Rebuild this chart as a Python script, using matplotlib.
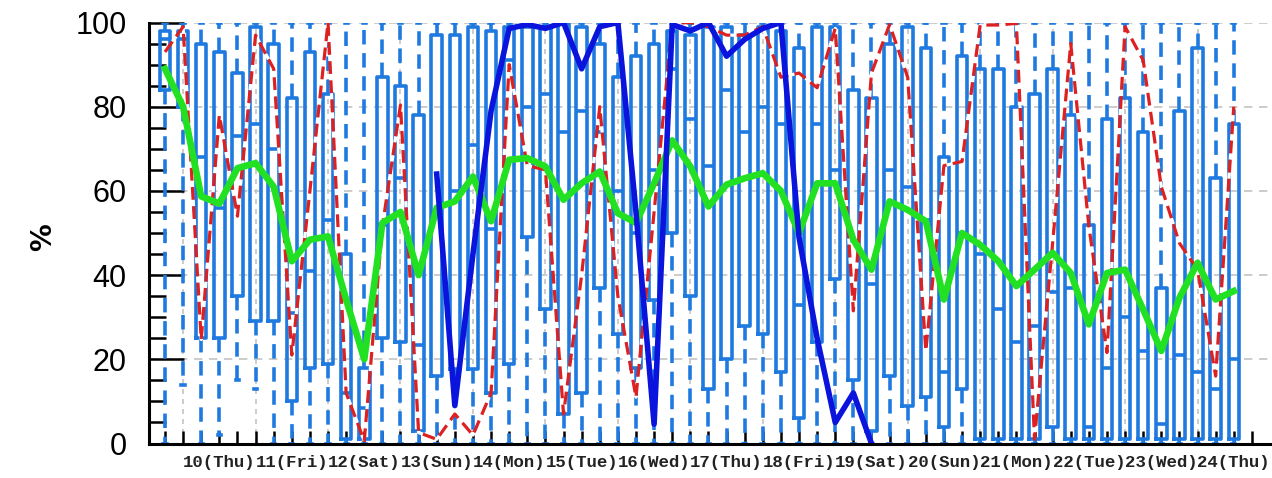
import matplotlib
matplotlib.use("Agg")
import matplotlib.pyplot as plt
import matplotlib.transforms as mtransforms
import numpy as np
from matplotlib.ticker import MultipleLocator

# ------------------------------------
# Data: one slot every 6 hours, slot 0 = 9th 18:00
# ------------------------------------
day_labels = ["10(Thu)", "11(Fri)", "12(Sat)", "13(Sun)", "14(Mon)",
              "15(Tue)", "16(Wed)", "17(Thu)", "18(Fri)", "19(Sat)",
              "20(Sun)", "21(Mon)", "22(Tue)", "23(Wed)", "24(Thu)"]

box_hi = [100, 100, 100, 100, 100, 100, 100, 100, 100, 100,
          100, 100, 100, 100, 100, 100, 100, 100, 100, 100,
          100, 100, 100, 100, 100, 100, 100, 100, 100, 100,
          100, 100, 100, 100, 100, 100, 100, 100, 100, 100,
          100, 100, 100, 100, 100, 100, 100, 100, 100, 100,
          100, 100, 100, 100, 100, 100, 100, 100, 100, 100]
box_q3 = [98, 98, 95, 93, 88, 99, 95, 82, 93, 83,
          45, 18, 87, 85, 78, 97, 97, 99, 98, 99,
          99, 99, 100, 99, 95, 87, 92, 95, 98, 97,
          99, 99, 97, 99, 98, 94, 99, 99, 84, 82,
          95, 99, 94, 68, 92, 89, 89, 80, 83, 89,
          78, 52, 77, 82, 74, 37, 79, 94, 63, 76]
box_med = [96, 96, 68, 56, 73, 76, 70, 31, 41, 53,
           12, 8.5, 52, 63, 23.5, 55, 60, 71, 51, 91,
           80, 83, 74, 79, 74, 60, 50, 65, 89, 77,
           66, 84, 74, 80, 76, 33, 76, 65, 48, 38,
           65, 61, 53, 17, 50, 45, 32, 24, 28, 36,
           37, 4, 18, 30, 22, 4.6, 21, 17, 13, 20]
box_q1 = [84, 80, 25, 25, 35, 29, 29, 10, 18, 19,
          1, 1, 25, 24, 3, 16, 17.6, 17.6, 12, 19,
          49, 32, 7, 12, 37, 26, 18, 34, 50, 35,
          13, 20, 28, 26, 17, 6, 24, 39, 15, 3,
          16, 9, 11, 4, 13, 1, 1, 1, 1, 4,
          1, 1, 1, 1, 1, 1, 1, 1, 1, 1]
box_lo = [0, 14, 0, 2, 15, 13, 0, 0, 0, 0,
          0, 0, 0, 0, 0, 0, 0, 0, 0, 0,
          0, 0, 0, 0, 0, 0, 0, 0, 0, 0,
          0, 0, 0, 0, 0, 0, 0, 0, 0, 0,
          0, 0, 0, 0, 0, 0, 0, 0, 0, 0,
          0, 0, 0, 0, 0, 0, 0, 0, 0, 0]

red_line = [93, 99, 24.7, 78, 54, 97, 89, 21, 60, 100,
            12, 0.6, 51.6, 80.4, 2.6, 1, 7, 2, 12, 90,
            66, 65, 7, 40, 80, 35, 11, 55, 99.8, 100,
            99, 97, 97, 99, 87, 88, 84.5, 98.6, 31.5, 88,
            99.5, 87, 22, 66, 67, 99.4, 99.4, 99.8, 1, 47.6,
            95, 51.6, 21.6, 99, 91, 61, 47.6, 41.3, 16, 80]
green_line = [89, 80, 58.7, 57, 65.4, 66.6, 61, 43.3, 48.4, 49.2,
              34.2, 20, 52.4, 55, 40, 56, 57.5, 63.4, 52.8, 67.4,
              67.8, 65.8, 57.9, 61.8, 64.6, 54.7, 52.4, 61.8, 72, 65.8,
              56.3, 61.5, 63, 64.2, 60, 50, 61.8, 61.8, 48.4, 41.3,
              57.5, 55.5, 52.8, 34.2, 50, 47.2, 43.3, 37.4, 41.3, 45.3,
              40.5, 28.3, 40.5, 41.3, 31.8, 22, 34.6, 42.9, 34.2, 36.2]
blue_line = [None, None, None, None, None, None, None, None, None, None,
             None, None, None, None, None, 64, 9, 45, 79, 98.6,
             99.5, 98.6, 100, 89, 99, 100, 55, 4.6, 99.5, 98,
             100, 92, 96, 98.6, 100, 49, 25, 5, 12, 0,
             None, None, None, None, None, None, None, None, None, None,
             None, None, None, None, None, None, None, None, None, None]

# ------------------------------------
# Styles
# ------------------------------------
BOX_BLUE = "#1f7ae0"
LINE_RED = "#dd2020"
LINE_GREEN = "#22e022"
LINE_BLUE = "#0a14dc"
GRID_GRAY = "#c4c4c4"

n_slots = len(box_med)
slots = np.arange(n_slots)

fig = plt.figure(figsize=(12.72, 4.78), dpi=100)
ax = fig.add_axes([149 / 1272, 34.5 / 478, 1121 / 1272, 421 / 478])

# grid: horizontal every 20 %, vertical at each midnight
ax.set_ylim(0, 100)
ax.set_xlim(-0.883, 61.0)
ax.set_yticks(np.arange(0, 101, 20))
ax.yaxis.set_minor_locator(MultipleLocator(5))
ax.yaxis.grid(True, color=GRID_GRAY, ls=(0, (5, 4)), lw=1.2, zorder=0)
for midnight in range(1, n_slots, 4):
    ax.axvline(midnight, color=GRID_GRAY, ls=(0, (3, 3)), lw=1.2, zorder=0)

stats = [dict(whislo=lo, q1=q1, med=md, q3=q3, whishi=hi, fliers=[])
         for lo, q1, md, q3, hi in zip(box_lo, box_q1, box_med, box_q3, box_hi)]
ax.bxp(stats, positions=slots, widths=0.58, showfliers=False,
       manage_ticks=False, capwidths=0.18,
       boxprops=dict(color=BOX_BLUE, lw=2.6),
       whiskerprops=dict(color=BOX_BLUE, lw=2.6, ls=(0, (4, 2.4))),
       capprops=dict(color=BOX_BLUE, lw=2.6),
       medianprops=dict(color=BOX_BLUE, lw=2.6))

blue = np.array([np.nan if v is None else v for v in blue_line], dtype=float)
ax.plot(slots, red_line, color=LINE_RED, lw=2.3, ls=(0, (4, 2)),
        gapcolor="white", zorder=4)
ax.plot(slots, green_line, color=LINE_GREEN, lw=4.8, zorder=5,
        solid_joinstyle="round")
ax.plot(slots, blue, color=LINE_BLUE, lw=4.0, zorder=6)

# axes frame and ticks
for side in ("top", "right"):
    ax.spines[side].set_visible(False)
for side in ("left", "bottom"):
    ax.spines[side].set_linewidth(2.2)
    ax.spines[side].set_zorder(7)

ax.set_xticks(np.arange(n_slots + 1))
ax.tick_params(axis="x", direction="in", length=9.5, width=1.8,
               labelbottom=False)
ax.tick_params(axis="y", which="major", direction="in", length=25,
               width=1.8, pad=16, labelsize=22)
ax.tick_params(axis="y", which="minor", direction="in", length=12.5,
               width=1.8)
for lab in ax.get_yticklabels():
    lab.set_fontfamily("Liberation Sans")

# day labels centred on noon of each day
trans = mtransforms.blended_transform_factory(ax.transData, ax.transAxes)
for k, label in enumerate(day_labels):
    ax.text(3 + 4 * k, -0.044, label, transform=trans, ha="center",
            va="center", fontsize=12.5, fontweight="bold",
            family="Liberation Mono", color="#222222")

fig.text(43 / 1272, 1 - 237 / 478, "%", rotation=90, fontsize=20,
         fontweight="bold", ha="center", va="center")

fig.savefig("out.png", dpi=100)
plt.close(fig)
